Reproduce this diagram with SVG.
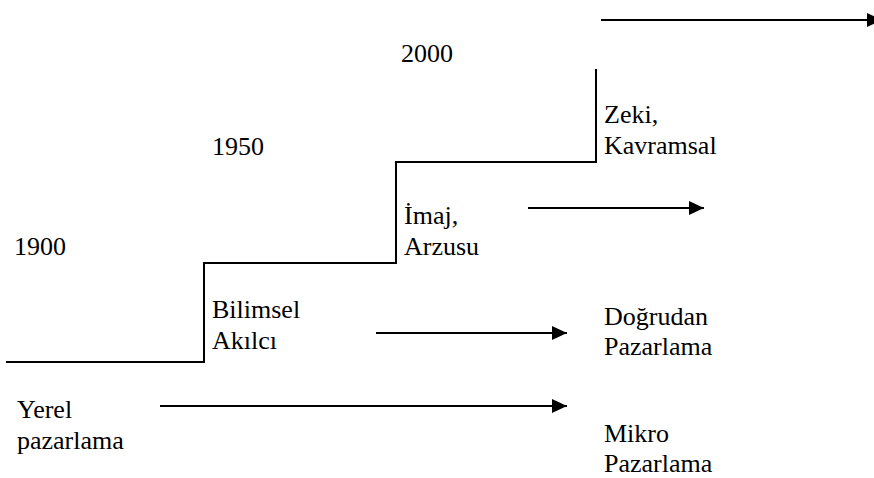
<svg xmlns="http://www.w3.org/2000/svg" width="874" height="478" viewBox="0 0 874 478">
  <style>
    .step { fill: none; stroke: #000; stroke-width: 2; }
    .arrow { fill: none; stroke: #000; stroke-width: 2; marker-end: url(#head); }
  </style>
  <defs>
    <marker id="head" markerUnits="userSpaceOnUse" markerWidth="15" markerHeight="14" refX="15" refY="7" orient="auto">
      <path d="M0,0 L15,7 L0,14 Z" fill="#000"/>
    </marker>
  </defs>
  <rect width="874" height="478" fill="#fff"/>

  <!-- staircase of eras -->
  <g id="staircase">
    <path class="step" d="M6,362 H204 V263 H396 V162 H596 V69"/>
  </g>

  <g font-family="'Liberation Serif', serif" font-size="26" fill="#000">
  <!-- year labels -->
  <g id="year-1900"><text x="14" y="255">1900</text></g>
  <g id="year-1950"><text x="212" y="155">1950</text></g>
  <g id="year-2000"><text x="401" y="62">2000</text></g>

  <!-- stage labels on the steps -->
  <g id="stage-bilimsel">
    <text x="212" y="318">Bilimsel</text>
    <text x="212" y="349">Akılcı</text>
  </g>
  <g id="stage-imaj">
    <text x="404" y="224">İmaj,</text>
    <text x="404" y="255">Arzusu</text>
  </g>
  <g id="stage-zeki">
    <text x="604" y="123">Zeki,</text>
    <text x="604" y="154">Kavramsal</text>
  </g>

  <!-- marketing labels -->
  <g id="yerel">
    <text x="17" y="418">Yerel</text>
    <text x="17" y="449">pazarlama</text>
  </g>
  <g id="dogrudan">
    <text x="604" y="325">Doğrudan</text>
    <text x="604" y="355">Pazarlama</text>
  </g>
  <g id="mikro">
    <text x="604" y="442">Mikro</text>
    <text x="604" y="472">Pazarlama</text>
  </g>
  </g>

  <!-- connectors -->
  <g id="connectors">
    <line class="arrow" x1="601" y1="20" x2="882" y2="20"/>
    <line class="arrow" x1="528" y1="208" x2="704" y2="208"/>
    <line class="arrow" x1="376" y1="333" x2="567" y2="333"/>
    <line class="arrow" x1="160" y1="406" x2="567" y2="406"/>
  </g>
</svg>
